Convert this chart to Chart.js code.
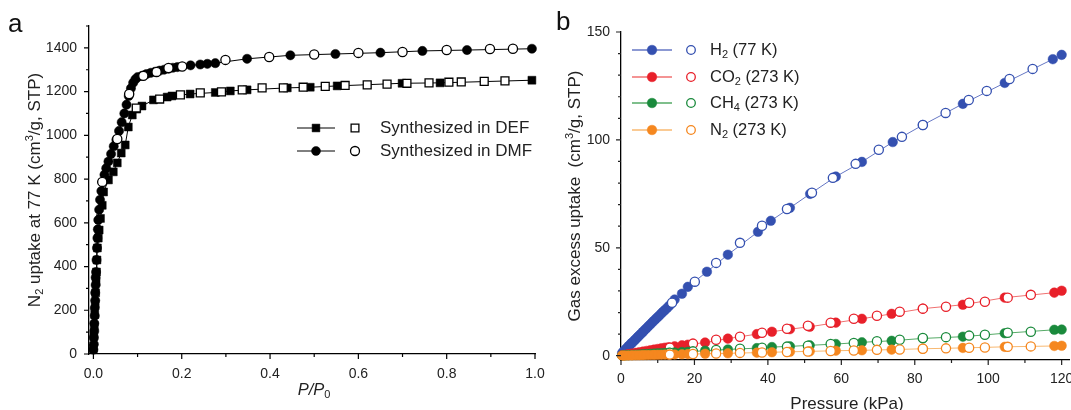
<!DOCTYPE html>
<html>
<head>
<meta charset="utf-8">
<script src="https://cdn.jsdelivr.net/npm/chart.js@4.4.1/dist/chart.umd.min.js"></script>
<style>
  body { margin: 0; background: #fff; }
  #wrap { position: relative; width: 1071px; height: 410px; overflow: hidden; }
  #chartA { position: absolute; left: 0; top: 0; }
  #chartB { position: absolute; left: 545px; top: 0; }
</style>
</head>
<body>
<div id="wrap">
  <canvas id="chartA" width="560" height="410"></canvas>
  <canvas id="chartB" width="545" height="410"></canvas>
</div>
<script>
// ---- panel a: N2 isotherms at 77 K (P/P0 vs uptake) ----
const defAdsP = [0.000,0.001,0.002,0.003,0.004,0.005,0.006,0.007,0.008,0.009,0.011,0.013,0.016,0.020,0.023,0.034,0.045,0.054,0.063,0.072,0.079,0.088,0.098,0.110,0.136,0.167,0.178,0.219,0.276,0.310,0.348,0.439,0.491,0.552,0.699,0.785,0.993];
const defAdsN = [25,80,130,180,230,280,330,375,430,485,530,567,620,680,741,796,833,874,919,956,1038,1093,1120,1134,1162,1175,1180,1189,1196,1203,1208,1217,1220,1226,1238,1240,1252];
const defDesP = [0.097,0.150,0.197,0.242,0.290,0.337,0.382,0.430,0.475,0.525,0.570,0.620,0.665,0.710,0.760,0.805,0.833,0.885,0.932];
const defDesN = [1125,1166,1185,1194,1199,1208,1217,1217,1220,1224,1228,1231,1234,1238,1240,1243,1244,1247,1249];
const dmfAdsP = [0.000,0.001,0.001,0.002,0.002,0.003,0.003,0.004,0.004,0.005,0.005,0.006,0.007,0.008,0.009,0.010,0.011,0.013,0.015,0.018,0.021,0.025,0.029,0.034,0.040,0.046,0.052,0.058,0.064,0.070,0.075,0.080,0.085,0.090,0.095,0.100,0.110,0.120,0.130,0.140,0.150,0.160,0.170,0.180,0.190,0.220,0.242,0.258,0.276,0.348,0.446,0.548,0.650,0.745,0.846,0.993];
const dmfAdsN = [20,45,75,105,140,175,210,245,280,315,350,375,430,485,530,570,613,660,705,745,785,820,850,880,915,950,980,1020,1060,1100,1140,1180,1215,1240,1256,1266,1272,1280,1286,1291,1296,1300,1305,1309,1312,1320,1324,1327,1330,1350,1366,1372,1378,1386,1390,1396];
const dmfDesP = [0.020,0.054,0.081,0.113,0.143,0.170,0.201,0.299,0.398,0.500,0.600,0.700,0.800,0.898,0.950];
const dmfDesN = [787,983,1189,1272,1290,1308,1315,1345,1358,1370,1377,1381,1390,1395,1396];

const aXTicks = [0, 0.2, 0.4, 0.6, 0.8, 1.0];
const aXMinor = [0.1, 0.3, 0.5, 0.7, 0.9];
const aYTicks = [0, 200, 400, 600, 800, 1000, 1200, 1400];
const aYMinor = [100, 300, 500, 700, 900, 1100, 1300, 1500];

// ---- panel b: gas uptake vs pressure (kPa) ----
const h2AdsP = [0.3,0.6,1.0,1.4,1.8,2.2,2.6,3.0,3.4,3.8,4.2,4.6,5.0,5.5,6.0,6.5,7.0,7.5,8.0,8.5,9.0,9.5,10.0,10.5,11.0,11.5,12.0,12.6,13.2,14.6,16.6,18.2,23.4,29.1,37.3,40.8,46.0,51.5,58.5,65.6,74.0,82.2,93.1,104.5,117.6,120.0];
const h2AdsV = [1.2,1.8,2.5,3.2,3.9,4.6,5.3,6.0,6.6,7.3,8.0,8.7,9.4,10.2,11.1,12.0,12.8,13.7,14.5,15.4,16.2,17.1,17.9,18.7,19.6,20.4,21.2,22.2,23.2,26.0,28.7,31.9,38.9,46.8,57.4,62.5,68.5,75.0,83.0,89.8,99.0,106.9,116.7,126.4,137.4,139.4];
const h2DesP = [13.9,20.1,25.9,32.4,38.4,45.2,52.0,57.7,63.9,70.2,76.5,82.2,88.4,94.7,99.6,105.8,112.1];
const h2DesV = [24.5,34.3,43.0,52.3,60.2,68.0,75.5,82.4,88.9,95.4,101.4,106.9,112.5,118.5,122.7,128.2,132.9];

const gasAdsP = [0.3,1,2,3,4,5,6,7,8,9,10,11,12,13,14.6,16.6,18.2,22.9,29.1,37.0,41.1,46.0,51.4,58.5,65.6,73.7,82.2,93.1,104.5,118.0,120.0];
const co2AdsV = [0.2,0.4,0.7,1.0,1.3,1.6,1.9,2.2,2.5,2.8,3.1,3.4,3.7,3.9,4.3,4.8,5.1,6.1,7.9,10.0,11.1,12.3,13.4,15.3,17.1,19.4,21.8,23.6,26.9,29.2,30.1];
const ch4AdsV = [0.1,0.15,0.25,0.35,0.45,0.55,0.65,0.75,0.85,0.95,1.05,1.15,1.25,1.35,1.5,1.7,1.8,2.3,2.9,3.5,4.0,4.3,4.8,5.4,6.2,6.9,8.0,8.8,10.4,12.0,12.1];
const n2AdsV = [0.02,0.05,0.09,0.13,0.17,0.21,0.25,0.29,0.33,0.37,0.41,0.45,0.48,0.51,0.57,0.64,0.7,0.9,1.1,1.4,1.6,1.8,2.0,2.3,2.5,2.8,3.2,3.6,4.1,4.5,4.6];
const gasDesP = [13.3,19.6,25.9,32.4,38.4,45.2,50.9,57.1,63.4,69.7,75.9,82.2,88.5,94.8,99.1,105.3,111.6];
const co2DesV = [3.7,5.6,7.4,8.8,10.6,12.5,13.9,15.3,17.1,18.5,20.4,21.8,22.7,24.5,25.0,26.9,28.2];
const ch4DesV = [1.4,2.0,2.6,3.2,3.7,4.2,4.6,5.4,5.9,6.7,7.4,8.2,8.6,9.3,9.7,10.6,11.1];
const n2DesV = [0.5,0.8,1.0,1.3,1.5,1.7,1.9,2.2,2.4,2.7,2.9,3.2,3.4,3.7,3.8,4.1,4.3];

const bXTicks = [0, 20, 40, 60, 80, 100, 120];
const bXMinor = [10, 30, 50, 70, 90, 110];
const bYTicks = [0, 50, 100, 150];
const bYMinor = [10, 20, 30, 40, 60, 70, 80, 90, 110, 120, 130, 140];

const FONT = '"Liberation Sans", Arial, sans-serif';
Chart.defaults.font.family = FONT;

const C = {
  h2:  { dot: '#3450b0', line: '#6677c4' },
  co2: { dot: '#e8202a', line: '#f07070' },
  ch4: { dot: '#1a8a3c', line: '#55aa66' },
  n2:  { dot: '#f5871f', line: '#f8b870' }
};

function pts(xs, ys) {
  return xs.map(function (x, i) { return { x: x, y: ys[i] }; });
}

// filled markers carry the connecting line, open markers sit on top without one
function series(xs, ys, color, lineColor, style, filled, radius) {
  return {
    data: pts(xs, ys),
    showLine: !!lineColor,
    borderColor: lineColor || color,
    borderWidth: 1,
    pointStyle: style,
    pointRadius: radius,
    pointBackgroundColor: filled ? color : '#fff',
    pointBorderColor: color,
    pointBorderWidth: filled ? 0.5 : 1.3,
    clip: false
  };
}

// text with sub/superscript pieces: parts = [[text, 'sub'|'sup'|'', italic]]
function rich(ctx, parts, x, y, size, align) {
  function f(p) {
    return (p[2] ? 'italic ' : '') + (p[1] ? Math.round(size * 0.66) : size) + 'px ' + FONT;
  }
  let w = 0;
  parts.forEach(function (p) { ctx.font = f(p); w += ctx.measureText(p[0]).width; });
  let cx = align === 'center' ? x - w / 2 : x;
  ctx.textAlign = 'left';
  ctx.textBaseline = 'middle';
  parts.forEach(function (p) {
    ctx.font = f(p);
    const dy = p[1] === 'sub' ? size * 0.32 : (p[1] === 'sup' ? -size * 0.3 : 0);
    ctx.fillText(p[0], cx, y + dy);
    cx += ctx.measureText(p[0]).width;
  });
}

function marker(ctx, style, x, y, r, color, filled) {
  ctx.beginPath();
  if (style === 'rect') {
    const s = r * Math.SQRT1_2;
    ctx.rect(x - s, y - s, 2 * s, 2 * s);
  } else {
    ctx.arc(x, y, r, 0, Math.PI * 2);
  }
  ctx.fillStyle = filled ? color : '#fff';
  ctx.fill();
  ctx.lineWidth = filled ? 0.5 : 1.3;
  ctx.strokeStyle = color;
  ctx.stroke();
}

// outward tick marks, long for labelled values and short for minor ones
function tickMarks(xMajor, xMinor, yMajor, yMinor, color) {
  return {
    id: 'tickMarks',
    afterDraw: function (chart) {
      const ctx = chart.ctx, a = chart.chartArea;
      const xs = chart.scales.x, ys = chart.scales.y;
      ctx.save();
      ctx.strokeStyle = color;
      ctx.lineWidth = 1.2;
      ctx.beginPath();
      function xt(v, len) {
        const p = xs.getPixelForValue(v);
        ctx.moveTo(p, a.bottom); ctx.lineTo(p, a.bottom + len);
      }
      function yt(v, len) {
        const p = ys.getPixelForValue(v);
        ctx.moveTo(a.left, p); ctx.lineTo(a.left - len, p);
      }
      xMajor.forEach(function (v) { xt(v, 5); });
      xMinor.forEach(function (v) { xt(v, 3); });
      yMajor.forEach(function (v) { yt(v, 5); });
      yMinor.forEach(function (v) { yt(v, 3); });
      ctx.stroke();
      ctx.restore();
    }
  };
}

const textA = {
  id: 'textA',
  afterDraw: function (chart) {
    const ctx = chart.ctx, a = chart.chartArea;
    ctx.save();
    ctx.fillStyle = '#111';
    ctx.font = '26px ' + FONT;
    ctx.textAlign = 'left';
    ctx.textBaseline = 'alphabetic';
    ctx.fillText('a', 8, 32);

    ctx.fillStyle = '#222';
    rich(ctx, [['P/P', '', true], ['0', 'sub', false]], (a.left + 4 + a.right) / 2, 390, 16.5, 'center');

    ctx.save();
    ctx.translate(35, (a.top + a.bottom) / 2);
    ctx.rotate(-Math.PI / 2);
    rich(ctx, [['N', ''], ['2', 'sub'], [' uptake at 77 K (cm', ''], ['3', 'sup'], ['/g, STP)', '']], 0, 0, 17, 'center');
    ctx.restore();

    // legend: line + filled marker, open marker, label
    const rows = [
      { y: 128, style: 'rect', r: 5.5, label: 'Synthesized in DEF' },
      { y: 151, style: 'circle', r: 4.5, label: 'Synthesized in DMF' }
    ];
    rows.forEach(function (row) {
      ctx.beginPath();
      ctx.moveTo(297, row.y); ctx.lineTo(335, row.y);
      ctx.strokeStyle = '#000'; ctx.lineWidth = 1;
      ctx.stroke();
      marker(ctx, row.style, 316, row.y, row.r, '#000', true);
      marker(ctx, row.style, 355, row.y, row.r, '#000', false);
      ctx.fillStyle = '#222';
      rich(ctx, [[row.label, '']], 380, row.y, 17, 'left');
    });
    ctx.restore();
  }
};

const textB = {
  id: 'textB',
  afterDraw: function (chart) {
    const ctx = chart.ctx, a = chart.chartArea;
    ctx.save();
    ctx.fillStyle = '#111';
    ctx.font = '26px ' + FONT;
    ctx.textAlign = 'left';
    ctx.textBaseline = 'alphabetic';
    ctx.fillText('b', 11, 30);

    ctx.fillStyle = '#222';
    rich(ctx, [['Pressure (kPa)', '']], (a.left + a.right) / 2 + 2, 404, 17, 'center');

    ctx.save();
    ctx.translate(30, (a.top + a.bottom) / 2);
    ctx.rotate(-Math.PI / 2);
    rich(ctx, [['Gas excess uptake  (cm', ''], ['3', 'sup'], ['/g, STP)', '']], 0, 0, 17, 'center');
    ctx.restore();

    const rows = [
      { y: 50, c: C.h2, parts: [['H', ''], ['2', 'sub'], [' (77 K)', '']] },
      { y: 77, c: C.co2, parts: [['CO', ''], ['2', 'sub'], [' (273 K)', '']] },
      { y: 103, c: C.ch4, parts: [['CH', ''], ['4', 'sub'], [' (273 K)', '']] },
      { y: 130, c: C.n2, parts: [['N', ''], ['2', 'sub'], [' (273 K)', '']] }
    ];
    rows.forEach(function (row) {
      ctx.beginPath();
      ctx.moveTo(87, row.y); ctx.lineTo(127, row.y);
      ctx.strokeStyle = row.c.line; ctx.lineWidth = 1.5;
      ctx.stroke();
      marker(ctx, 'circle', 107, row.y, 4.8, row.c.dot, true);
      marker(ctx, 'circle', 146, row.y, 4.3, row.c.dot, false);
      ctx.fillStyle = '#222';
      rich(ctx, row.parts, 165, row.y, 16.5, 'left');
    });
    ctx.restore();
  }
};

function axis(min, max, ticks, pad, fmt, fit) {
  return {
    type: 'linear',
    min: min,
    max: max,
    grid: { display: false, drawTicks: false },
    border: { display: true, color: '#000', width: 1.3 },
    ticks: { padding: pad, color: '#222', font: { size: 14 }, maxRotation: 0, autoSkip: false, callback: fmt },
    afterBuildTicks: function (s) { s.ticks = ticks.map(function (v) { return { value: v }; }); },
    afterFit: fit
  };
}

new Chart(document.getElementById('chartA'), {
  type: 'scatter',
  data: {
    datasets: [
      series(dmfDesP, dmfDesN, '#000', null, 'circle', false, 4.6),
      series(defDesP, defDesN, '#000', null, 'rect', false, 5.6),
      series(dmfAdsP, dmfAdsN, '#000', '#000', 'circle', true, 4.6),
      series(defAdsP, defAdsN, '#000', '#000', 'rect', true, 5.6)
    ]
  },
  options: {
    responsive: false,
    animation: false,
    layout: { padding: { left: 0, right: 25, top: 26, bottom: 0 } },
    plugins: { legend: { display: false }, tooltip: { enabled: false } },
    scales: {
      x: axis(-0.01, 1.0, aXTicks, 12, function (v) { return v.toFixed(1); }, function (s) { s.height = 56; }),
      y: axis(0, 1500, aYTicks, 12, function (v) { return String(v); }, function (s) { s.width = 89; })
    }
  },
  plugins: [tickMarks(aXTicks, aXMinor, aYTicks, aYMinor, '#000'), textA]
});

new Chart(document.getElementById('chartB'), {
  type: 'scatter',
  data: {
    datasets: [
      series(gasDesP, n2DesV, C.n2.dot, null, 'circle', false, 4.6),
      series(gasAdsP, n2AdsV, C.n2.dot, C.n2.line, 'circle', true, 4.8),
      series(gasDesP, ch4DesV, C.ch4.dot, null, 'circle', false, 4.6),
      series(gasAdsP, ch4AdsV, C.ch4.dot, C.ch4.line, 'circle', true, 4.8),
      series(gasDesP, co2DesV, C.co2.dot, null, 'circle', false, 4.6),
      series(gasAdsP, co2AdsV, C.co2.dot, C.co2.line, 'circle', true, 4.8),
      series(h2DesP, h2DesV, C.h2.dot, null, 'circle', false, 4.6),
      series(h2AdsP, h2AdsV, C.h2.dot, C.h2.line, 'circle', true, 4.8)
    ]
  },
  options: {
    responsive: false,
    animation: false,
    layout: { padding: { left: 0, right: 21, top: 32, bottom: 0 } },
    plugins: { legend: { display: false }, tooltip: { enabled: false } },
    scales: {
      x: axis(0, 122, bXTicks, 11, function (v) { return String(v); }, function (s) { s.height = 50; }),
      y: axis(-2, 150, bYTicks, 11, function (v) { return String(v); }, function (s) { s.width = 76; })
    }
  },
  plugins: [tickMarks(bXTicks, bXMinor, bYTicks, bYMinor, '#222'), textB]
});
</script>
</body>
</html>
